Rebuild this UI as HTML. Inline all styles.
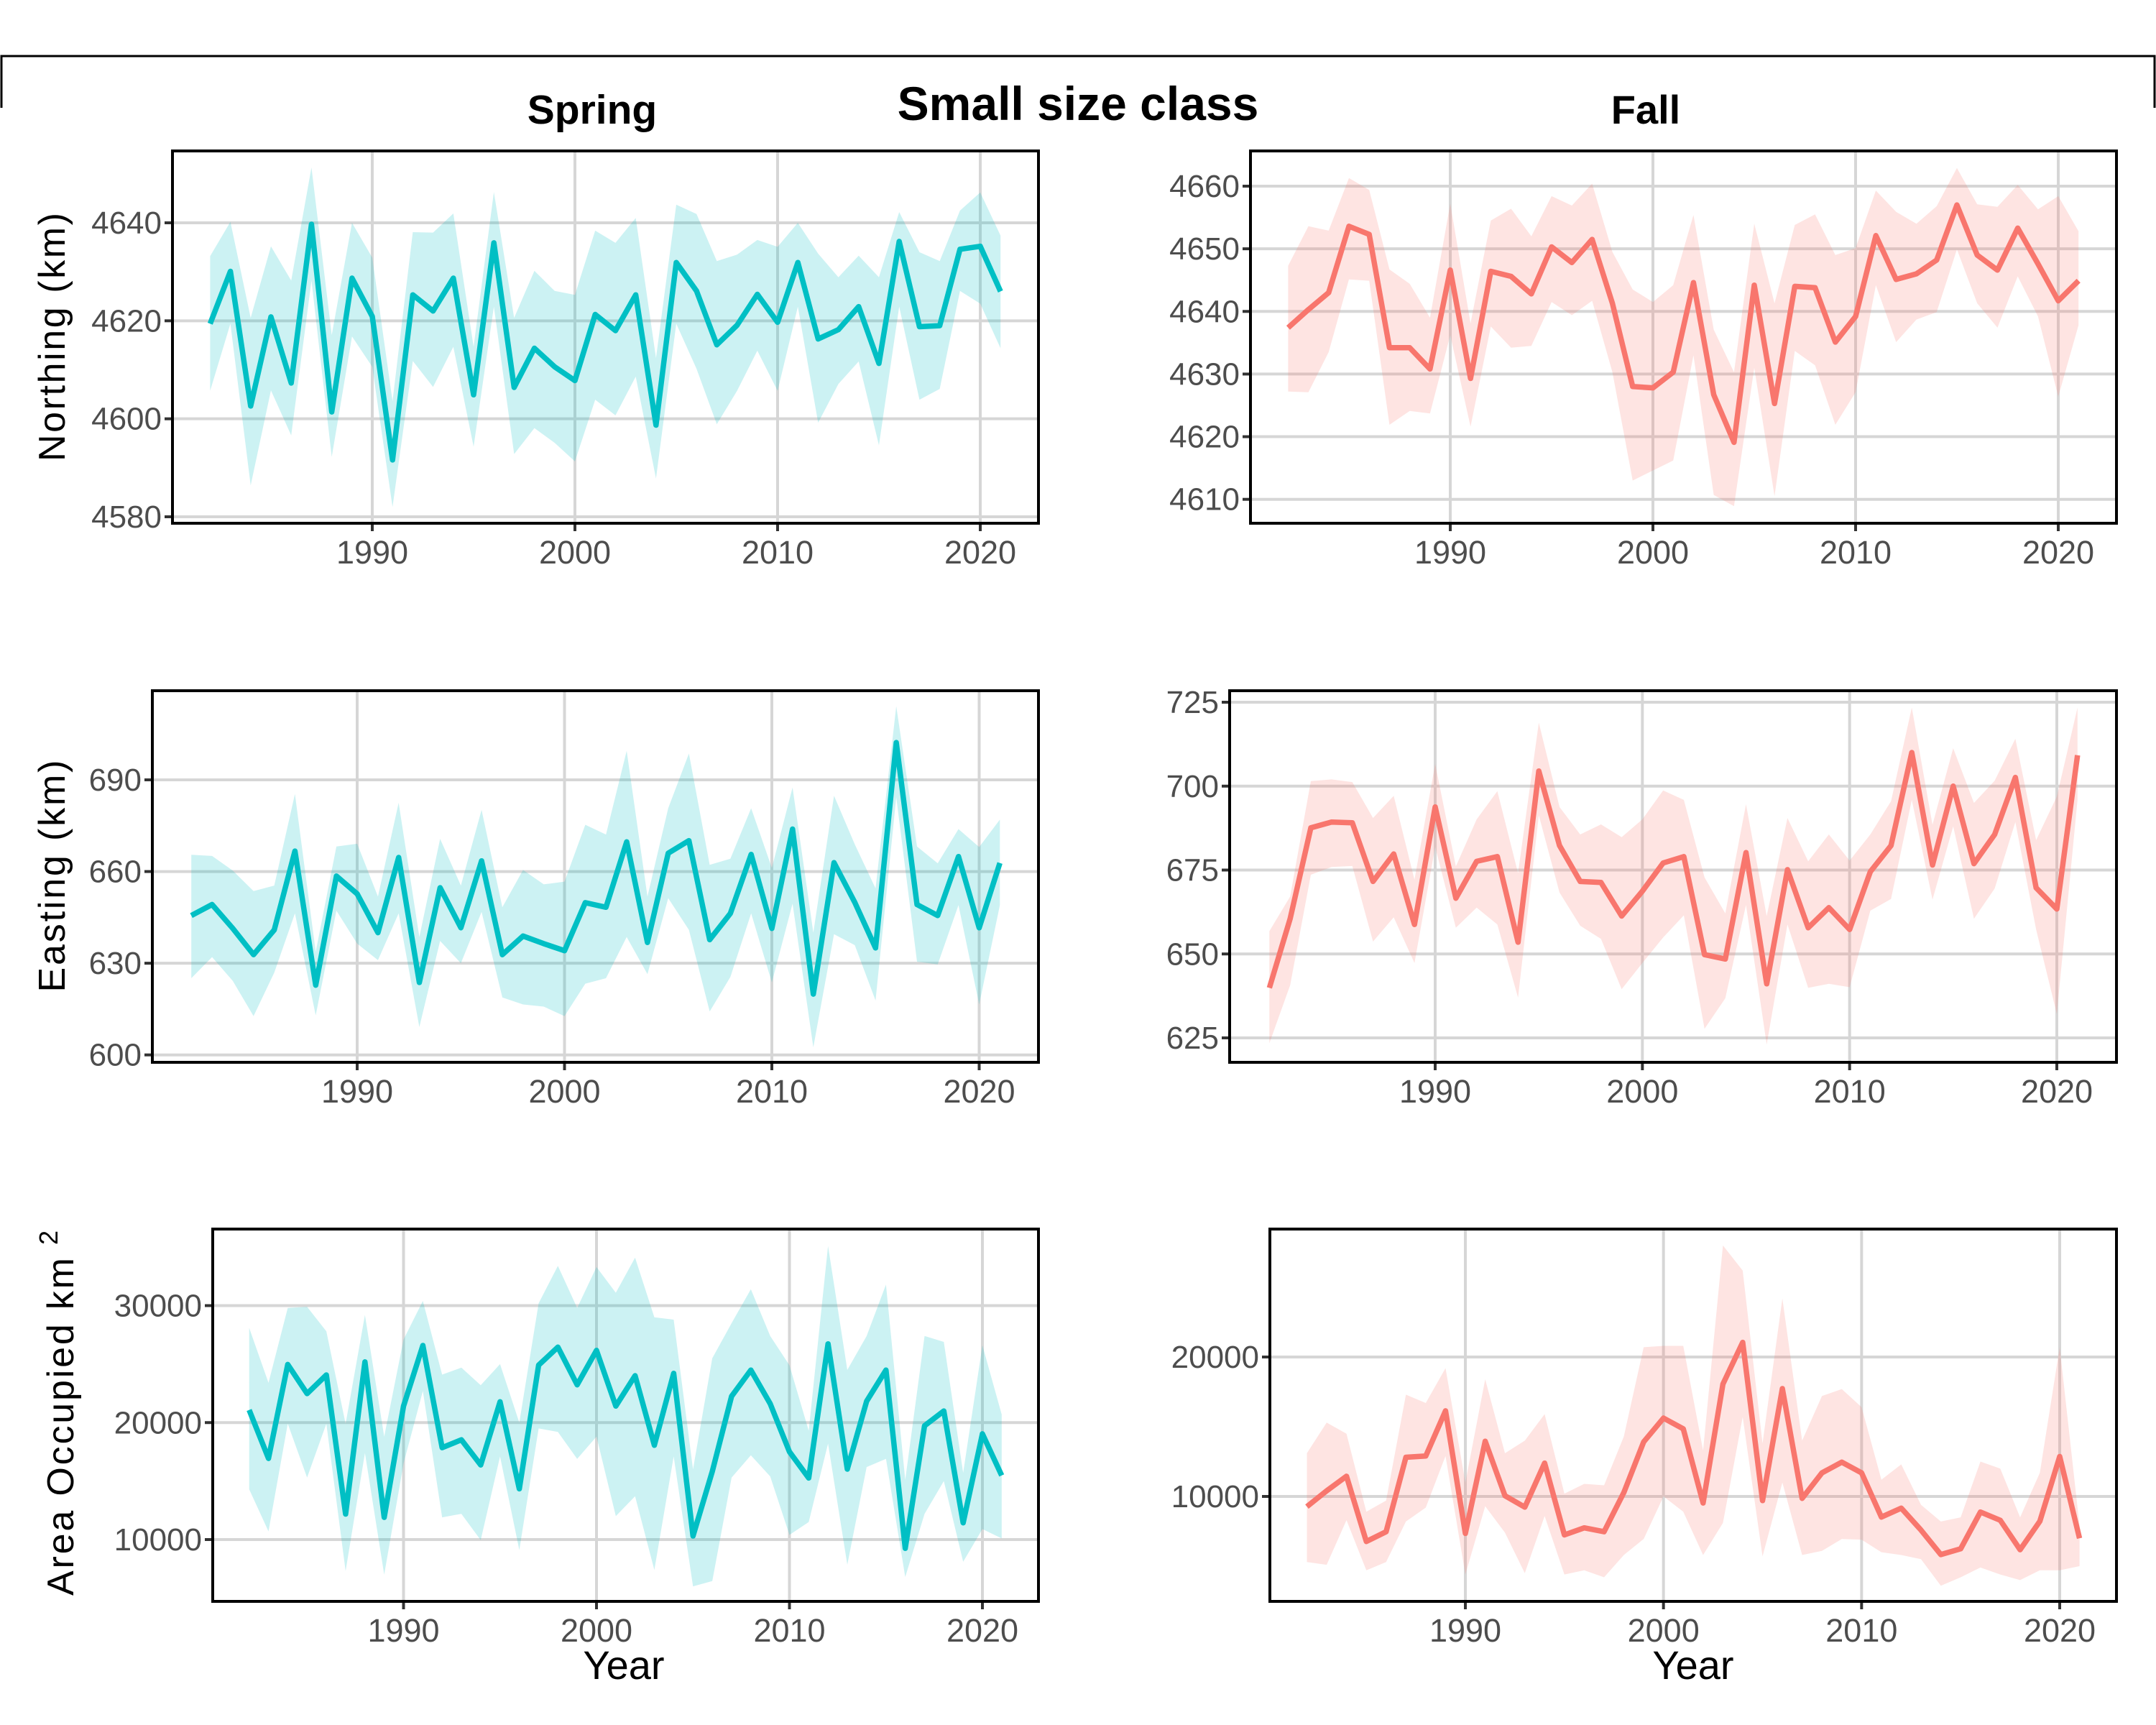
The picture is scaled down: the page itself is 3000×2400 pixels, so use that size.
<!DOCTYPE html>
<html><head><meta charset="utf-8"><title>Small size class</title>
<style>
html,body{margin:0;padding:0;background:#fff;}
svg{display:block;}
text{font-family:"Liberation Sans",Arial,sans-serif;}
</style></head>
<body>
<svg id="chart" width="3000" height="2400" viewBox="0 0 3000 2400" xmlns="http://www.w3.org/2000/svg">
<rect x="0" y="0" width="3000" height="2400" fill="#fff"/>
<path d="M2,150 L2,78 L2998,78 L2998,150" fill="none" stroke="#000" stroke-width="3"/>
<text x="1500" y="167" text-anchor="middle" font-size="66" font-weight="bold">Small size class</text>
<text x="824" y="172" text-anchor="middle" font-size="57" font-weight="bold">Spring</text>
<text x="2290" y="172" text-anchor="middle" font-size="56" font-weight="bold">Fall</text>
<text transform="translate(90,469) rotate(-90)" text-anchor="middle" font-size="52" textLength="346" lengthAdjust="spacing">Northing (km)</text>
<text transform="translate(90,1219) rotate(-90)" text-anchor="middle" font-size="52" textLength="323" lengthAdjust="spacing">Easting (km)</text>
<text transform="translate(102,1985) rotate(-90)" text-anchor="middle" font-size="52" textLength="470" lengthAdjust="spacing">Area Occupied km</text>
<text transform="translate(80,1722) rotate(-90)" text-anchor="middle" font-size="36">2</text>
<text x="868" y="2336" text-anchor="middle" font-size="56">Year</text>
<text x="2356" y="2336" text-anchor="middle" font-size="56">Year</text>
<g id="panels"></g>
</svg>
<script>
const years = [1982,1983,1984,1985,1986,1987,1988,1989,1990,1991,1992,1993,1994,1995,1996,1997,1998,1999,2000,2001,2002,2003,2004,2005,2006,2007,2008,2009,2010,2011,2012,2013,2014,2015,2016,2017,2018,2019,2020,2021];
const xTicks = [1990,2000,2010,2020];

const springNorthMean = [4619.4,4630.1,4602.6,4620.8,4607.3,4639.7,4601.4,4628.7,4620.9,4591.6,4625.3,4622,4628.7,4604.9,4635.9,4606.4,4614.4,4610.6,4607.8,4621.3,4618,4625.3,4598.7,4631.9,4626.1,4615.1,4619.1,4625.4,4619.7,4631.9,4616.3,4618.2,4622.9,4611.3,4636.2,4618.8,4619,4634.6,4635.2,4626];
const springNorthUpper = [4633.2,4640.2,4620.6,4635.2,4628.2,4651.3,4617.1,4640,4632.9,4603.6,4638.1,4638,4641.9,4614.7,4646.3,4620.6,4630.2,4626.1,4625.3,4638.4,4635.9,4641,4612.4,4643.7,4641.8,4632.2,4633.5,4636.5,4635.1,4640,4633.7,4628.9,4633.3,4628.9,4642.2,4634,4632.2,4642.5,4646.2,4637.4];
const springNorthLower = [4605.7,4619.4,4586.4,4605.8,4596.6,4628.2,4592.2,4616.8,4610.6,4582,4611.8,4606.5,4614.7,4594.3,4622.9,4592.8,4598.1,4595.1,4591.3,4603.9,4600.7,4608.6,4587.8,4619.4,4610.2,4598.9,4605.7,4613.9,4605.7,4622.9,4599.2,4607.1,4611.7,4594.6,4622.9,4603.9,4606.1,4626.1,4623.5,4614.4];
const springNorthTicks = [4580,4600,4620,4640];

const fallNorthMean = [4637.4,4640.3,4643,4653.6,4652.3,4634.2,4634.2,4630.8,4646.6,4629.3,4646.4,4645.6,4642.8,4650.3,4647.8,4651.5,4641.3,4628,4627.8,4630.3,4644.6,4626.7,4619.1,4644.2,4625.3,4644,4643.8,4635.1,4639.2,4652.1,4645.1,4646,4648.2,4657,4649,4646.6,4653.3,4647.6,4641.7,4644.9];
const fallNorthUpper = [4647.3,4653.6,4652.9,4661.3,4659.4,4646.7,4644.4,4639,4657.2,4638.1,4654.5,4656.4,4652,4658.4,4656.9,4660.4,4649.5,4643.5,4641.5,4644.2,4655.4,4637.1,4630.3,4654,4641.3,4653.8,4655.5,4649,4650.1,4659.3,4655.9,4654,4656.8,4662.9,4657.1,4656.7,4660.2,4656.3,4658.4,4652.8];
const fallNorthLower = [4627.2,4627.1,4633.5,4645.1,4644.9,4621.9,4624.1,4623.7,4636.2,4621.6,4637.6,4634.2,4634.5,4641.5,4639.4,4641.7,4630.3,4613,4614.6,4616.2,4633,4610.7,4608.9,4631,4610.5,4633.7,4631.4,4621.9,4627.1,4644.2,4635.1,4638.7,4639.9,4649.9,4641.3,4637.4,4645.6,4639.2,4626.4,4637.8];
const fallNorthTicks = [4610,4620,4630,4640,4650,4660];

const springEastMean = [645.6,649.2,641.4,632.8,640.9,666.7,622.8,658.5,652.7,640,664.6,623.7,654.7,641.6,663.5,632.8,638.9,636.4,634.1,649.8,648.3,669.7,636.8,666,670.1,637.7,646.3,665.6,641.4,673.9,619.9,662.9,649.9,635,702.2,649.2,645.6,664.9,641.6,662.8];
const springEastUpper = [665.5,665.1,660.3,653.6,655.4,685.4,633.7,668.2,669.1,651.8,682.5,638.6,670.7,655.4,680.2,648.3,660.5,655.8,656.7,675.3,672.1,699.5,651.8,680.7,698.6,662.2,664.2,680.7,661.2,687.5,640,684.8,668.9,654.5,714.1,668.2,662.7,673.9,668,677];
const springEastLower = [625.1,632,624.2,612.7,626.9,646.3,612.9,647.2,636.4,631,646.3,609.1,637.3,630,646.8,618.8,616.5,615.8,612.7,623.3,625.1,638.6,626.4,651.3,640.9,614.2,625.5,646.3,623.7,649.5,602.5,639.5,635.9,617.8,684.3,630.5,629.6,649,616.5,649];
const springEastTicks = [600,630,660,690];

const fallEastMean = [639.9,660.5,687.6,689.3,689.1,671.6,679.8,658.8,693.8,666.6,677.6,679,653.5,704.5,682.3,671.6,671.3,661.3,668.7,677.1,679,649.8,648.5,680.2,641.1,675.1,657.8,663.8,657.3,674.5,682.3,710,676.5,700,676.9,685.6,702.6,669.7,663.4,709.2];
const fallEastUpper = [656.8,667.1,701.5,702,701.2,690.5,697.1,672.1,706.6,676.1,690.1,698.5,674.1,718.9,693.8,685.6,688.6,684.8,690.1,698.7,695.9,672.8,662.1,694.6,661.3,690.5,677.6,685.6,677.8,685.6,695.5,723.4,688.5,711.3,695,701.6,714.1,683.9,696.9,723.4];
const fallEastLower = [623.4,640.7,673.6,675.9,676.2,653.7,660.9,647.3,681.9,657.8,663.8,658.8,637,691.3,668.3,658.4,654.5,639.5,647.3,654.9,661.5,627.7,636.8,664.6,623,658.8,639.9,641.1,640.1,662.9,666.4,695.9,666.2,688,660.5,669.5,689.3,657.3,632.1,695.9];
const fallEastTicks = [625,650,675,700,725];

const springAreaMean = [21080,16940,24970,22480,24070,12180,25190,11900,21410,26590,17860,18530,16380,21780,14340,24910,26450,23230,26170,21410,24010,18060,24210,10310,15820,22250,24490,21610,17500,15260,26730,16020,21830,24490,9250,19730,20990,11430,19040,15480];
const springAreaUpper = [28100,23400,29800,29900,27800,19900,29200,18800,27100,30400,24100,24700,23200,25000,20000,30200,33400,29800,33300,31100,34100,29000,28800,16000,25500,28500,31400,27400,24900,19300,35100,24500,27400,31800,15100,27400,26900,15700,26600,20700];
const springAreaLower = [14300,10700,19900,15300,19900,7300,17400,7000,16500,22700,11900,12200,9950,17100,9100,19500,19200,16900,18800,12000,13700,7400,17100,6000,6450,15300,17200,15400,10400,11500,18200,7850,16200,16900,6800,12200,15000,8100,10900,10100];
const springAreaTicks = [10000,20000,30000];

const fallAreaMean = [9270,10400,11450,6770,7470,12810,12900,16140,7350,13960,10050,9230,12390,7240,7750,7470,10280,13910,15620,14850,9530,18060,21050,9700,17730,9860,11690,12460,11690,8520,9160,7590,5830,6250,8880,8290,6180,8220,12860,7000];
const fallAreaUpper = [13100,15300,14500,8900,9700,17300,16700,19200,11000,18400,13100,14000,15900,10200,10900,10800,14300,20700,20800,20800,13300,28000,26200,13800,24200,14000,17200,17700,16400,11200,12300,9400,8200,8500,12500,12000,8500,11700,20700,7900];
const fallAreaLower = [5300,5100,8300,4700,5300,8200,9200,12900,4400,9300,7400,4500,8600,4400,4700,4200,5800,6950,10000,8900,5800,8100,15700,5700,11000,5800,6100,6950,6900,6000,5800,5500,3600,4200,4900,4400,4000,4700,4700,5000];
const fallAreaTicks = [10000,20000];

const TEAL = "#00BFC4", RED = "#F8766D";
const panels = [
  {name:"spring-northing", box:[240,210,1445,728], xr:[1990,518,2020,1364], yr:[4640,310,4580,719], ticks:springNorthTicks, mean:springNorthMean, up:springNorthUpper, lo:springNorthLower, col:TEAL},
  {name:"fall-northing", box:[1740,210,2945,728], xr:[1990,2018,2020,2864], yr:[4660,259,4610,694.7], ticks:fallNorthTicks, mean:fallNorthMean, up:fallNorthUpper, lo:fallNorthLower, col:RED},
  {name:"spring-easting", box:[212,961,1445,1478], xr:[1990,497,2020,1362.5], yr:[690,1085,600,1467.7], ticks:springEastTicks, mean:springEastMean, up:springEastUpper, lo:springEastLower, col:TEAL},
  {name:"fall-easting", box:[1711,961,2945,1478], xr:[1990,1997,2020,2862], yr:[725,977,625,1444], ticks:fallEastTicks, mean:fallEastMean, up:fallEastUpper, lo:fallEastLower, col:RED},
  {name:"spring-area", box:[296,1710,1445,2228], xr:[1990,561.5,2020,1367], yr:[30000,1816.5,10000,2142], ticks:springAreaTicks, mean:springAreaMean, up:springAreaUpper, lo:springAreaLower, col:TEAL},
  {name:"fall-area", box:[1767,1710,2945,2228], xr:[1990,2039,2020,2866], yr:[20000,1888,10000,2082], ticks:fallAreaTicks, mean:fallAreaMean, up:fallAreaUpper, lo:fallAreaLower, col:RED}
];
const NS = "http://www.w3.org/2000/svg";
function mk(tag, attrs, parent){ const e=document.createElementNS(NS,tag); for(const k in attrs) e.setAttribute(k,attrs[k]); parent.appendChild(e); return e; }
function lin(a){ return v => a[1] + (v-a[0])*(a[3]-a[1])/(a[2]-a[0]); }
const root = document.getElementById("panels");
panels.forEach((p,i)=>{
  const X = lin(p.xr), Y = lin(p.yr);
  const [x0,y0,x1,y1] = p.box;
  const g = mk("g",{},root);
  
  
  const clip = mk("clipPath",{id:"clip"+i},g);
  mk("rect",{x:x0,y:y0,width:x1-x0,height:y1-y0},clip);
  p.ticks.forEach(t=>{
    const gl = mk("line",{x1:x0,x2:x1,y1:Y(t),y2:Y(t),stroke:"#d6d6d6","stroke-width":4},g);
    
    
    const tk = mk("line",{x1:x0-11,x2:x0,y1:Y(t),y2:Y(t),stroke:"#333","stroke-width":4},g);
    
    
    const lb = mk("text",{x:x0-15,y:Y(t)+15,"text-anchor":"end","font-size":44,fill:"#4d4d4d"},g);
    lb.textContent = t;
    
    
  });
  xTicks.forEach(t=>{
    const gl = mk("line",{x1:X(t),x2:X(t),y1:y0,y2:y1,stroke:"#d6d6d6","stroke-width":4},g);
    
    
    const tk = mk("line",{x1:X(t),x2:X(t),y1:y1,y2:y1+11,stroke:"#333","stroke-width":4},g);
    
    
    const lb = mk("text",{x:X(t),y:y1+56,"text-anchor":"middle","font-size":45,fill:"#4d4d4d"},g);
    lb.textContent = t;
    
    
  });
  const inner = mk("g",{"clip-path":"url(#clip"+i+")"},g);
  let d = years.map((yr,k)=>(k?"L":"M")+X(yr).toFixed(1)+","+Y(p.up[k]).toFixed(1)).join("");
  for(let k=years.length-1;k>=0;k--) d += "L"+X(years[k]).toFixed(1)+","+Y(p.lo[k]).toFixed(1);
  const band = mk("path",{d:d+"Z",fill:p.col,"fill-opacity":0.2},inner);
  
  
  const ld = years.map((yr,k)=>(k?"L":"M")+X(yr).toFixed(1)+","+Y(p.mean[k]).toFixed(1)).join("");
  const line = mk("path",{d:ld,fill:"none",stroke:p.col,"stroke-width":7.5,"stroke-linejoin":"round"},inner);
  
  
  const border = mk("rect",{x:x0,y:y0,width:x1-x0,height:y1-y0,fill:"none",stroke:"#000","stroke-width":4},g);
  
  
});
</script>
</body></html>
